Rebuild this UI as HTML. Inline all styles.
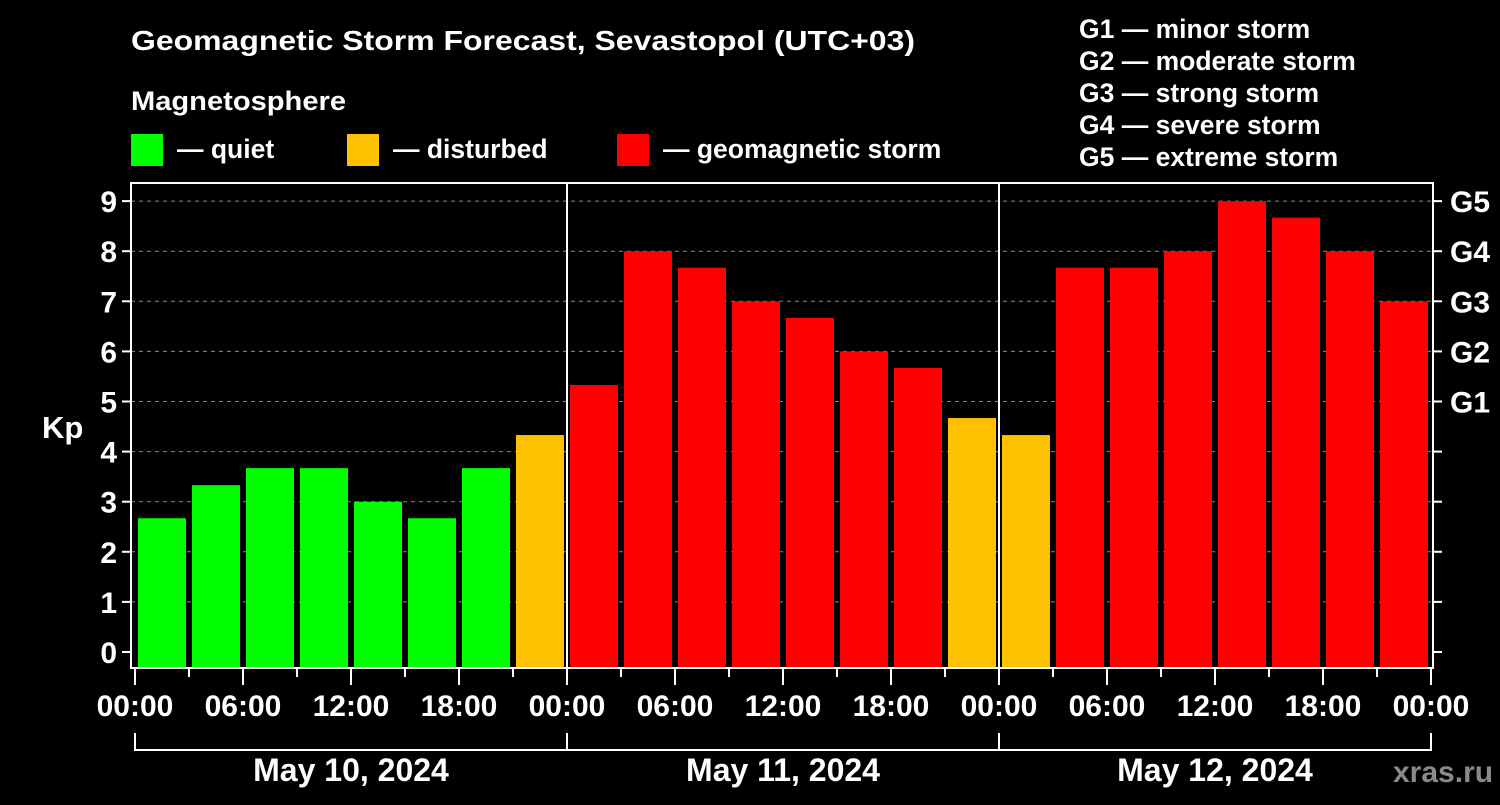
<!DOCTYPE html>
<html><head><meta charset="utf-8"><style>
body{margin:0;background:#000;width:1500px;height:800px;overflow:hidden}
svg text{font-family:"Liberation Sans",Arial,sans-serif;font-weight:bold;fill:#fff}
</style></head><body>
<svg id="c" width="1500" height="800" xmlns="http://www.w3.org/2000/svg">
<rect width="1500" height="800" fill="#000"/>
<text x="131" y="50" font-size="28" textLength="784" lengthAdjust="spacingAndGlyphs">Geomagnetic Storm Forecast, Sevastopol (UTC+03)</text>
<text x="131" y="110" font-size="26.5" textLength="215" lengthAdjust="spacingAndGlyphs">Magnetosphere</text>
<g><rect x="131" y="134" width="32" height="32" fill="#00ff00"/><text x="177" y="158" font-size="26.5">— quiet</text></g>
<g><rect x="347" y="134" width="32" height="32" fill="#ffc000"/><text x="393" y="158" font-size="26.5">— disturbed</text></g>
<g><rect x="617" y="134" width="32" height="32" fill="#ff0000"/><text x="663" y="158" font-size="26.5">— geomagnetic storm</text></g>
<g font-size="26.5">
<text x="1079" y="38">G1 — minor storm</text>
<text x="1079" y="70">G2 — moderate storm</text>
<text x="1079" y="102">G3 — strong storm</text>
<text x="1079" y="134">G4 — severe storm</text>
<text x="1079" y="166">G5 — extreme storm</text>
</g>
<text x="42" y="438" font-size="31">Kp</text>
<text x="1393" y="782" font-size="30" style="fill:#8a8a8a">xras.ru</text>
<g id="plot"></g>
</svg>
<script>
const kpValues=[2.67,3.33,3.67,3.67,3,2.67,3.67,4.33,5.33,8,7.67,7,6.67,6,5.67,4.67,4.33,7.67,7.67,8,9,8.67,8,7];
const yTicks=[0,1,2,3,4,5,6,7,8,9];
const gLabels=["G1","G2","G3","G4","G5"];
const hourLabels=["00:00","06:00","12:00","18:00"];
const dayLabels=["May 10, 2024","May 11, 2024","May 12, 2024"];
const NS="http://www.w3.org/2000/svg";
const g=document.getElementById('plot');
const X0=135,SLOT=54,L=131,R=1433,T=183,B=668;
const y=v=>652-v*50.1;
const x=i=>X0+i*SLOT;
function mk(t,a,p){const e=document.createElementNS(NS,t);for(const k in a)e.setAttribute(k,a[k]);(p||g).appendChild(e);return e;}
function color(v){return v>=5?'#ff0000':v>=4?'#ffc000':'#00ff00';}
yTicks.forEach(v=>{
 if(v>0){const l=mk('line',{x1:L,x2:R,y1:y(v),y2:y(v),stroke:'#888','stroke-dasharray':'4,4','stroke-width':1});
 
 }
 mk('line',{x1:L-9,x2:L,y1:y(v),y2:y(v),stroke:'#fff','stroke-width':2});
 mk('line',{x1:R,x2:R+9,y1:y(v),y2:y(v),stroke:'#fff','stroke-width':2});
 const t=mk('text',{x:L-14,y:y(v)+11,'font-size':30,'text-anchor':'end'});t.textContent=v;
 
 
});
gLabels.forEach((s,i)=>{const t=mk('text',{x:1450,y:y(5+i)+11,'font-size':30});t.textContent=s;
 
 });
kpValues.forEach((v,i)=>{
 const r=mk('rect',{x:x(i)+3,y:y(v),width:48,height:B-y(v),fill:color(v)});
 
 
});
for(let d=1;d<3;d++)mk('line',{x1:x(d*8),x2:x(d*8),y1:T,y2:B,stroke:'#fff','stroke-width':2});
mk('rect',{x:L,y:T,width:R-L,height:B-T,fill:'none',stroke:'#fff','stroke-width':2});
for(let i=0;i<=24;i++){
 const major=i%2==0;
 mk('line',{x1:x(i),x2:x(i),y1:B,y2:B+(major?17:9),stroke:'#fff','stroke-width':2});
 if(major){const t=mk('text',{x:x(i),y:716,'font-size':30,'text-anchor':'middle'});t.textContent=hourLabels[(i/2)%4];
 
 }
}
dayLabels.forEach((s,d)=>{
 mk('path',{d:`M${x(d*8)} 733V750H${x(d*8+8)}V733`,fill:'none',stroke:'#fff','stroke-width':2});
 const t=mk('text',{x:(x(d*8)+x(d*8+8))/2,y:781,'font-size':32,'text-anchor':'middle'});t.textContent=s;
 
 
});
</script>
</body></html>
